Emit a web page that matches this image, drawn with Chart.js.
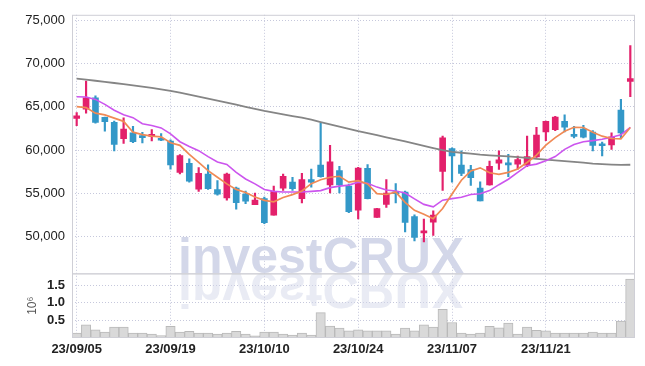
<!DOCTYPE html>
<html><head><meta charset="utf-8">
<script src="https://cdn.jsdelivr.net/npm/chart.js@4/dist/chart.umd.min.js"></script>
<style>html,body{margin:0;padding:0;background:#fff;}#wrap{width:645px;height:366px;position:relative;}</style>
</head><body><div id="wrap"><canvas id="c"></canvas></div>
<script>
const dates = ['23/09/05','23/09/06','23/09/07','23/09/08','23/09/11','23/09/12','23/09/13','23/09/14','23/09/15','23/09/18',
'23/09/19','23/09/20','23/09/21','23/09/22','23/09/25','23/09/26','23/09/27','23/10/04','23/10/05','23/10/06',
'23/10/10','23/10/11','23/10/12','23/10/13','23/10/16','23/10/17','23/10/18','23/10/19','23/10/20','23/10/23',
'23/10/24','23/10/25','23/10/26','23/10/27','23/10/30','23/10/31','23/11/01','23/11/02','23/11/03','23/11/06',
'23/11/07','23/11/08','23/11/09','23/11/10','23/11/13','23/11/14','23/11/15','23/11/16','23/11/17','23/11/20',
'23/11/21','23/11/22','23/11/23','23/11/24','23/11/27','23/11/28','23/11/29','23/11/30','23/12/01','23/12/04'];
const tickLabels = ['23/09/05','23/09/19','23/10/10','23/10/24','23/11/07','23/11/21'];
const open  = [63660,64715,66040,63770,63200,61310,61990,61680,61590,61360,61050,57440,58470,55510,57250,55460,54490,55630,54940,53730,
54410,52520,55630,56310,54410,56610,58270,56000,57640,55850,53090,57900,52250,53750,55170,55170,52330,50460,51710,57560,
60170,58270,57750,55630,56000,58500,58390,58390,58270,59230,62100,62360,63320,61730,62440,62070,60660,60590,64630,67930];
const high  = [64340,67975,66270,63800,63350,63730,62750,62050,62360,61910,61190,59490,59000,57980,58320,56500,57360,55740,55290,55060,
54600,55850,57250,56880,57330,57820,63120,60550,58130,56080,58010,58350,53300,56610,56160,55290,52560,52070,53010,61610,
60280,59910,58240,56360,58750,59910,59520,59320,61610,62640,63350,63890,64070,62750,62860,62250,60930,61990,65850,72060];
const low   = [62820,64260,63120,62180,59910,60770,60850,60820,61050,61080,57820,57250,56300,55250,55480,54800,54230,53210,53840,53730,
51540,52520,55370,55370,53920,55740,56880,55060,55060,52790,52070,54380,52250,53410,53920,50570,49550,49410,50170,55370,
56310,57070,55930,54150,55970,57780,56930,57820,58090,59150,61080,62250,62100,61420,61420,59910,59340,60090,61420,66160];
const close = [63950,66040,63200,63270,60660,62440,60970,61450,61760,61140,58300,59380,56420,57330,55550,54940,57250,53960,54120,54260,
51650,55250,56990,55550,56610,56310,56950,58660,56000,52900,57930,54410,53270,55060,54980,51680,49950,50630,52520,61420,
59340,57330,56820,54150,58130,58890,58300,58920,59260,61730,63320,63810,62640,61590,61500,60550,60510,61530,61990,68240];
const ma5 = [65020,64910,64260,64070,63690,63320,62070,61790,61610,61530,60850,60550,59520,58580,57640,56880,56110,55480,55120,54600,
54210,54040,54550,54870,55290,56140,56590,56880,56990,56310,56480,56110,54980,54890,55170,53980,53070,52620,52100,53270,
54940,56540,57610,57960,57390,57220,57440,57820,58580,59430,60570,61450,62180,62640,62610,62070,61610,61340,61310,62610];
const ma20 = [66160,66130,65850,65280,64600,64090,63750,63040,62840,62560,61870,60970,60430,59940,59260,58640,58350,57440,56680,56110,
55460,55250,55170,55170,55170,55250,55340,55680,55850,55970,56310,56190,55740,55400,55290,55060,54380,53750,53470,54230,
54410,54570,54890,54980,55340,56020,56650,57440,58210,58390,58770,59260,60090,60650,60970,61100,61250,61480,61760,62640];
const ma60 = [68240,68120,68000,67880,67740,67600,67460,67320,67180,67010,66840,66620,66400,66180,65950,65720,65480,65240,65000,64760,
64520,64330,64130,63930,63740,63520,63240,62980,62720,62450,62180,61950,61720,61480,61240,61000,60740,60480,60230,60000,
59800,59700,59600,59480,59400,59340,59280,59200,59120,59000,58900,58820,58740,58660,58560,58450,58380,58330,58300,58320];
const volume = [0.14,0.37,0.23,0.17,0.31,0.31,0.14,0.14,0.11,0.07,0.33,0.17,0.19,0.14,0.14,0.11,0.14,0.19,0.11,0.06,
0.17,0.17,0.11,0.08,0.14,0.08,0.72,0.34,0.28,0.20,0.23,0.20,0.20,0.20,0.11,0.28,0.20,0.37,0.31,0.81,
0.44,0.14,0.11,0.14,0.33,0.29,0.42,0.11,0.31,0.22,0.20,0.14,0.14,0.14,0.14,0.17,0.14,0.14,0.48,1.67];
const priceTicks = [50000,55000,60000,65000,70000,75000];
const volumeTicks = [0.5,1.0,1.5];

const UP='#e3206b', DOWN='#3398c8';
const candleColor = close.map((c,i)=> c>=open[i]?UP:DOWN);
const GRID='#c6c8dc';
const FONT="'Liberation Sans',Arial,sans-serif";

const deco = {
  id:'deco',
  beforeDatasetsDraw(chart){
    const {ctx, chartArea:ca} = chart; const base = chart.scales.y.bottom;
    ctx.save();
    ctx.font = "bold 50px 'Liberation Sans', Arial, sans-serif";
    ctx.fillStyle = '#d3d7e9';
    ctx.textBaseline = 'alphabetic';
    ctx.fillText('investCRUX', 178, base);
    ctx.beginPath(); ctx.rect(ca.left, base, ca.right-ca.left, ca.bottom-base); ctx.clip();
    ctx.translate(0, 2*base); ctx.scale(1,-1);
    ctx.globalAlpha = 0.5;
    ctx.fillText('investCRUX', 178, base);
    ctx.restore();
  },
  afterDraw(chart){
    const {ctx} = chart; const y=chart.scales.y, y2=chart.scales.y2; const ca=chart.chartArea;
    ctx.save(); ctx.strokeStyle='#cfcfd6'; ctx.lineWidth=1;
    ctx.strokeRect(ca.left+0.5, y.top+0.5, ca.right-ca.left-1, y.bottom-y.top);
    ctx.strokeRect(ca.left+0.5, y2.top+0.5, ca.right-ca.left-1, y2.bottom-y2.top-1);
    ctx.restore();
  }
};

new Chart(document.getElementById('c'), {
  type:'bar',
  data:{ labels: dates, datasets:[
    {type:'line', label:'MA5', data:ma5, borderColor:'#f08a55', borderWidth:1.7, pointRadius:0, yAxisID:'y', order:1},
    {type:'line', label:'MA20', data:ma20, borderColor:'#cc55ee', borderWidth:1.6, pointRadius:0, yAxisID:'y', order:2},
    {type:'line', label:'MA60', data:ma60, borderColor:'#858585', borderWidth:1.8, pointRadius:0, yAxisID:'y', order:3},
    {label:'body', data: open.map((o,i)=>[o, close[i]]), backgroundColor:candleColor, barThickness:6, minBarLength:2, grouped:false, yAxisID:'y', order:4},
    {label:'wick', data: low.map((l,i)=>[l, high[i]]), backgroundColor:candleColor, barThickness:1.5, grouped:false, yAxisID:'y', order:5},
    {label:'volume', data: volume, backgroundColor:'#d9d9d9', borderColor:'#b9b9b9', borderWidth:1, barPercentage:1, categoryPercentage:1, grouped:false, yAxisID:'y2', order:6}
  ]},
  options:{
    responsive:true, maintainAspectRatio:false, animation:false, devicePixelRatio:1,
    layout:{padding:{top:9,right:10,left:0,bottom:0}},
    plugins:{legend:{display:false}, tooltip:{enabled:false}},
    scales:{
      x:{ type:'category', offset:true,
        grid:{offset:false, color:GRID, drawTicks:false},
        border:{display:false, dash:[1,2]},
        ticks:{autoSkip:false, maxRotation:0, padding:4, color:'#222', font:{family:FONT, size:13, weight:'bold'},
          callback(v,i){ const l=dates[i]; return tickLabels.includes(l)? l : null; } },
        afterFit(s){ s.height = 28; }
      },
      y2:{ type:'linear', position:'left', stack:'p', stackWeight:1, min:0, max:1.83,
        grid:{color:GRID, drawTicks:false}, border:{display:false, dash:[1,2]},
        afterBuildTicks(s){ s.ticks = volumeTicks.map(v=>({value:v})); },
        ticks:{autoSkip:false, padding:7, color:'#222', font:{family:FONT, size:13, weight:'bold'}, callback:v=>v.toFixed(1)},
        title:{display:true, text:'10\u2076', color:'#555', font:{family:FONT, size:12}, padding:{top:25,bottom:0}},
        afterFit(s){ s.width = 72; }
      },
      y:{ type:'linear', position:'left', stack:'p', stackWeight:4, min:45800, max:75600,
        grid:{color:GRID, drawTicks:false}, border:{display:false, dash:[1,2]},
        afterBuildTicks(s){ s.ticks = priceTicks.map(v=>({value:v})); },
        ticks:{autoSkip:false, padding:7, color:'#222', font:{family:FONT, size:13}, callback:v=>v.toLocaleString('en-US')},
        afterFit(s){ s.width = 72; }
      }
    }
  },
  plugins:[deco]
});
</script></body></html>
